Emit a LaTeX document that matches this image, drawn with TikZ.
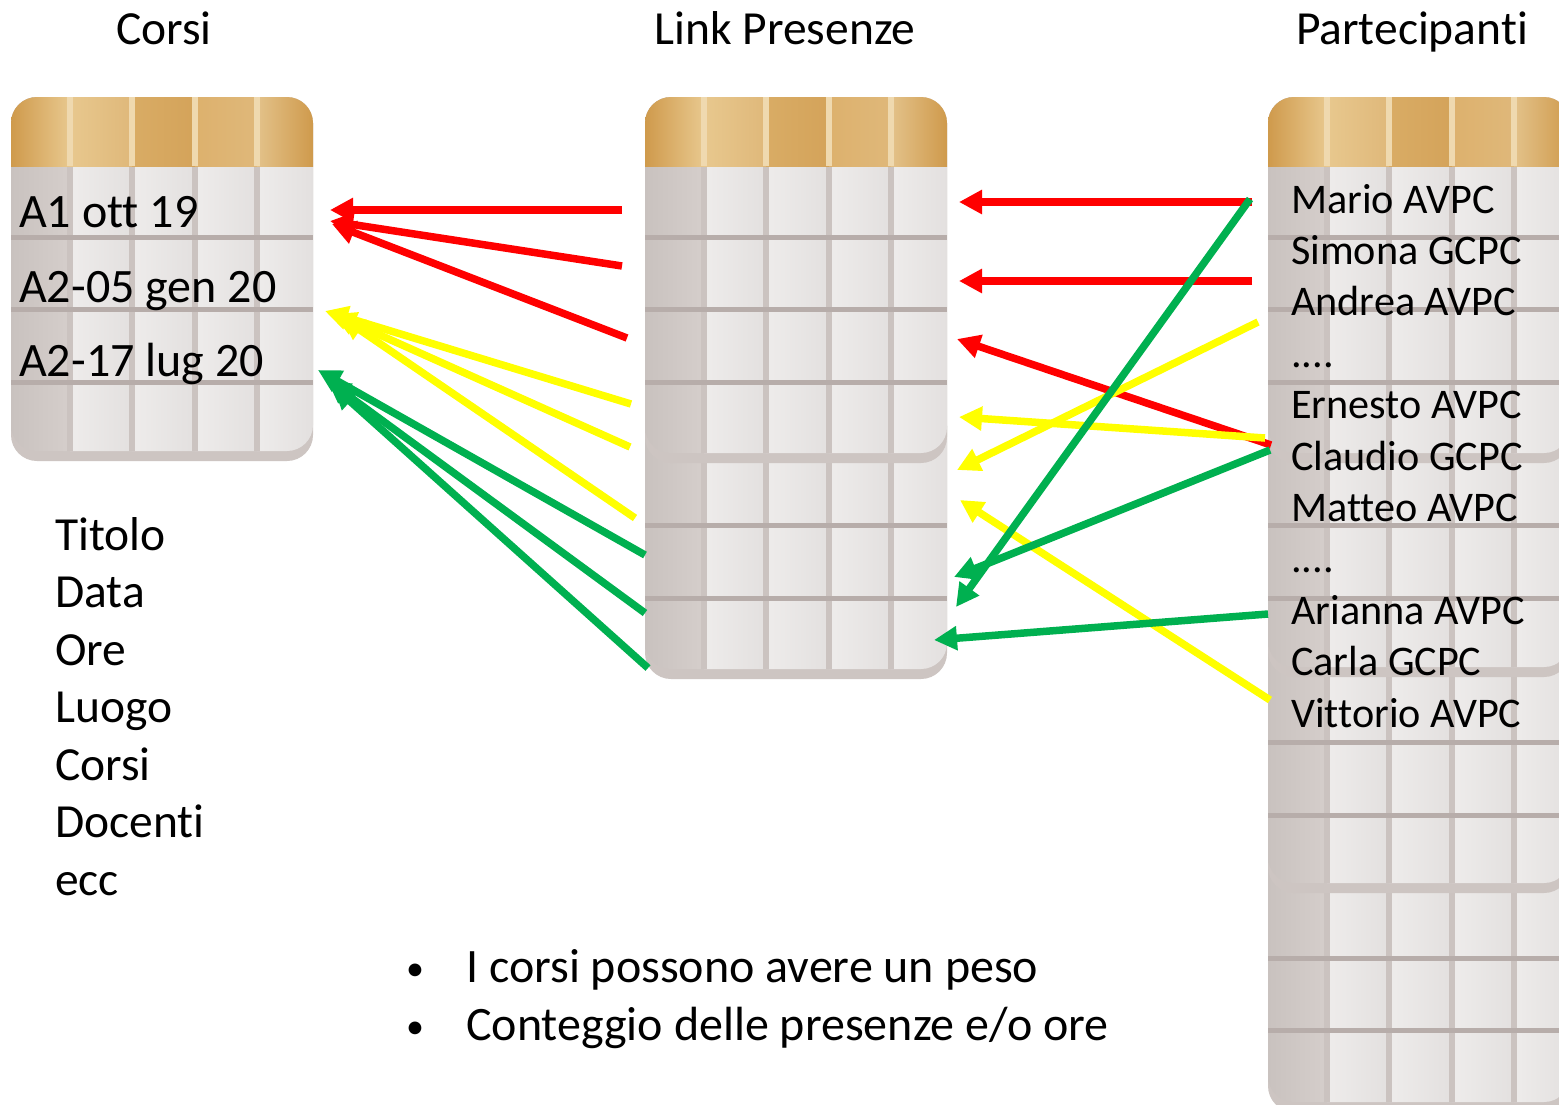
\documentclass[tikz,border=0pt]{standalone}
\usepackage{fontspec}
\setmainfont{Carlito}[RawFeature={-liga}]
\usetikzlibrary{arrows.meta}
\definecolor{tshadow}{HTML}{CDC5C2}
\definecolor{cfa}{HTML}{C9C2BF}
\definecolor{cfb}{HTML}{D5CECB}
\definecolor{cla}{HTML}{EEECEB}
\definecolor{clb}{HTML}{E3E0DF}
\definecolor{gridv}{HTML}{CBC3C0}
\definecolor{gridh}{HTML}{B7ADAA}
\definecolor{gA}{HTML}{CF9A4C}
\definecolor{gB}{HTML}{E8C88E}
\definecolor{gC}{HTML}{DFB87A}
\definecolor{gD}{HTML}{D9AC65}
\definecolor{gE}{HTML}{D4A35A}
\definecolor{gF}{HTML}{DDB16D}
\definecolor{gG}{HTML}{E3C28A}
\definecolor{glight}{HTML}{EFD9AF}
\definecolor{myred}{HTML}{FF0000}
\definecolor{myyellow}{HTML}{FFFF00}
\definecolor{mygreen}{HTML}{00B050}
% table segment: x0, ytop, ybottom (incl. shadow), row lines
\newcommand\dbseg[4]{%
  \fill[tshadow,rounded corners=26pt] (#1,#2) rectangle ({#1+302},#3);
  \begin{scope}
    \clip[rounded corners=26pt] (#1,#2) rectangle ({#1+302},{#3-10});
    \shade[left color=cfa,right color=cfb] (#1,#2) rectangle ({#1+59},#3);
    \foreach \a/\b in {59/121,121/184,184/246,246/302}{%
      \shade[left color=cla,right color=clb] ({#1+\a},#2) rectangle ({#1+\b},#3);}
    \foreach \c in {59,121,184,246}{%
      \fill[gridv] ({#1+\c-3},#2) rectangle ({#1+\c+3},#3);}
    \foreach \r in {#4}{%
      \fill[gridh] (#1,{\r-2.5}) rectangle ({#1+302},{\r+2.5});}
  \end{scope}}
% gold header: x0
\newcommand\dbhead[1]{%
  \begin{scope}
    \clip[rounded corners=26pt] (#1,97) rectangle ({#1+302},220);
    \shade[left color=gA,right color=gB] (#1,97) rectangle ({#1+59},166);
    \shade[left color=gB,right color=gC] ({#1+59},97) rectangle ({#1+121},166);
    \shade[left color=gD,right color=gE] ({#1+121},97) rectangle ({#1+184},166);
    \shade[left color=gF,right color=gC] ({#1+184},97) rectangle ({#1+246},166);
    \shade[left color=gG,right color=gA] ({#1+246},97) rectangle ({#1+302},166);
    \foreach \c in {59,121,184,246}{%
      \fill[glight] ({#1+\c-3},97) rectangle ({#1+\c+3},166);}
  \end{scope}}
\begin{document}
\begin{tikzpicture}[x=1pt,y=-1pt,
  title/.style={inner sep=0pt,anchor=base,font=\fontsize{47.5}{57}\selectfont},
  big/.style={inner sep=0pt,anchor=base west,font=\fontsize{47.5}{57}\selectfont},
  bul/.style={inner sep=0pt,anchor=base west,font=\fontsize{48}{57}\selectfont},
  dot/.style={inner sep=0pt,anchor=base west,font=\fontsize{36}{40}\selectfont},
  rowtxt/.style={inner sep=0pt,anchor=base west,font=\fontsize{48}{57}\selectfont},
  ptxt/.style={inner sep=0pt,anchor=base west,font=\fontsize{42.2}{50}\selectfont},
  arr/.style={line width=7.5pt,-{Triangle[length=23pt,width=23pt]}},
  ra/.style={arr,draw=myred,fill=myred},
  ya/.style={arr,draw=myyellow,fill=myyellow},
  ga/.style={arr,draw=mygreen,fill=mygreen}]
\useasboundingbox (0,0) rectangle (1559,1104);
\clip (0,0) rectangle (1559,1104);
\fill[white] (0,0) rectangle (1559,1104);

% ---- tables ----
% Corsi
\dbseg{11}{97}{461}{237,309,382}
\dbhead{11}
% Link Presenze (two stacked segments)
\dbseg{645}{400}{679}{525,598}
\dbseg{645}{97}{463}{237,309,382}
\dbhead{645}
% Partecipanti (four stacked segments)
\dbseg{1268}{820}{1112}{958,1030}
\dbseg{1268}{610}{893}{742,815}
\dbseg{1268}{400}{677}{525,598}
\dbseg{1268}{97}{463}{237,309,382}
\dbhead{1268}

% ---- titles ----
\node[title] (tcorsi) at (164,44) {Corsi};
\node[title] (tlink) at (785,44) {Link Presenze};
\node[title] (tpart) at (1412,44) {Partecipanti};

% ---- Corsi rows ----
\node[rowtxt] (c1) at (19,227) {A1 ott 19};
\node[rowtxt] (c2) at (19,302) {A2-05 gen 20};
\node[rowtxt] (c3) at (19,376) {A2-17 lug 20};

% ---- fields ----
\node[big] (f1) at (55,550) {Titolo};
\node[big] (f2) at (55,607) {Data};
\node[big] (f3) at (55,665) {Ore};
\node[big] (f4) at (55,722) {Luogo};
\node[big] (f5) at (55,780) {Corsi};
\node[big] (f6) at (55,837) {Docenti};
\node[big] (f7) at (55,895) {ecc};

% ---- bullets ----
\node[dot] (b1d) at (406,980) {•};
\node[bul] (b1) at (466,982) {I corsi possono avere un peso};
\node[dot] (b2d) at (406,1038) {•};
\node[bul] (b2) at (466,1040) {Conteggio delle presenze e/o ore};

% ---- Partecipanti ----
\node[ptxt] (p1) at (1291,213) {Mario AVPC};
\node[ptxt] (p2) at (1291,264.4) {Simona GCPC};
\node[ptxt] (p3) at (1291,315.8) {Andrea AVPC};
\node[ptxt] (p4) at (1291,367.2) {....};
\node[ptxt] (p5) at (1291,418.6) {Ernesto AVPC};
\node[ptxt] (p6) at (1291,470) {Claudio GCPC};
\node[ptxt] (p7) at (1291,521.4) {Matteo AVPC};
\node[ptxt] (p8) at (1291,572.8) {....};
\node[ptxt] (p9) at (1291,624.2) {Arianna AVPC};
\node[ptxt] (p10) at (1291,675.6) {Carla GCPC};
\node[ptxt] (p11) at (1291,727) {Vittorio AVPC};

% ---- connector end points ----
% left side (Link -> Corsi)
\coordinate (lr1s) at (622,210); \coordinate (lr1e) at (330,210);
\coordinate (lr2s) at (622,266); \coordinate (lr2e) at (330,221);
\coordinate (lr3s) at (627,338); \coordinate (lr3e) at (332,224);
\coordinate (ly1s) at (631,404); \coordinate (ly1e) at (325,311);
\coordinate (ly2s) at (630,447); \coordinate (ly2e) at (333,314);
\coordinate (ly3s) at (635,518); \coordinate (ly3e) at (341,317);
\coordinate (lg1s) at (645,555); \coordinate (lg1e) at (318,370);
\coordinate (lg2s) at (645,613); \coordinate (lg2e) at (327,380);
\coordinate (lg3s) at (648,668); \coordinate (lg3e) at (333,386);
% right side (Partecipanti -> Link)
\coordinate (rr1s) at (1252,202); \coordinate (rr1e) at (959,202);
\coordinate (rr2s) at (1252,281); \coordinate (rr2e) at (959,281);
\coordinate (rr3s) at (1271,445); \coordinate (rr3e) at (957,339);
\coordinate (ry1s) at (1265,438); \coordinate (ry1e) at (959,417);
\coordinate (ry2s) at (1258,322); \coordinate (ry2e) at (957,470);
\coordinate (ry3s) at (1270,700); \coordinate (ry3e) at (960,500);
\coordinate (rg1s) at (1250,199); \coordinate (rg1e) at (956,607);
\coordinate (rg2s) at (1270,450); \coordinate (rg2e) at (954,577);
\coordinate (rg3s) at (1268,614); \coordinate (rg3e) at (934,640);

% ---- connectors ----
\draw[ra] (lr1s) -- (lr1e);
\draw[ra] (lr2s) -- (lr2e);
\draw[ra] (lr3s) -- (lr3e);
\draw[ya] (ly1s) -- (ly1e);
\draw[ya] (ly2s) -- (ly2e);
\draw[ya] (ly3s) -- (ly3e);
\draw[ga] (lg1s) -- (lg1e);
\draw[ga] (lg2s) -- (lg2e);
\draw[ga] (lg3s) -- (lg3e);

\draw[ra] (rr1s) -- (rr1e);
\draw[ra] (rr2s) -- (rr2e);
\draw[ra] (rr3s) -- (rr3e);
\draw[ya] (ry1s) -- (ry1e);
\draw[ya] (ry2s) -- (ry2e);
\draw[ya] (ry3s) -- (ry3e);
\draw[ga] (rg1s) -- (rg1e);
\draw[ga] (rg2s) -- (rg2e);
\draw[ga] (rg3s) -- (rg3e);
\end{tikzpicture}
\end{document}
